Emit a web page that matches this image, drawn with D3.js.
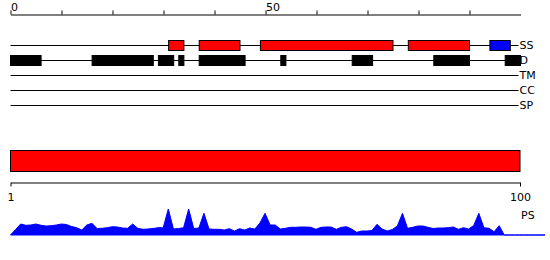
<!DOCTYPE html>
<html><head><meta charset="utf-8">
<script src="https://cdn.jsdelivr.net/npm/d3@7"></script>
<style>body{margin:0;background:#fff}svg{display:block}text{font-family:"DejaVu Sans",sans-serif;font-size:11px}</style>
</head><body>
<svg id="c" width="550" height="260"></svg>
<script>
// ---- data ----
const trackNames = ["SS", "D", "TM", "CC", "SP"];
const topTickValues = [0, 10, 20, 30, 40, 50, 60, 70, 80, 90];
const topTickLabels = ["0", "50"];
const ssStart = [31, 37, 49, 78, 94];
const ssEnd   = [34, 45, 75, 90, 98];
const ssType  = ["helix", "helix", "helix", "helix", "strand"];
const dStart = [0, 16, 29, 33, 37, 53, 67, 83, 97];
const dEnd   = [6, 28, 32, 34, 46, 54, 71, 90, 100];
const domainStart = [1];
const domainEnd = [100];
const bottomTickValues = [1, 100];
const psValues = [0, 5.5, 11, 9.7, 10, 11, 9.7, 9, 9.3, 10, 11, 10.5, 8.5, 7.3, 5, 10, 11.7, 6.5, 6.7, 7.3,
  8.3, 8, 7, 6.7, 11, 6.7, 5.7, 6, 6.5, 7.3, 7.3, 26, 6, 6.5, 7.3, 26, 6.5, 7, 21.7, 6,
  5.7, 5.7, 5, 6.3, 4, 6.3, 5, 7, 6, 12, 21.7, 10, 10, 6, 6.7, 7.7, 7.7, 8, 8, 7.7,
  5.7, 7.7, 8, 8, 5.7, 7.7, 8.3, 6, 2.7, 4, 4, 4.5, 10.7, 6, 4, 5.5, 9, 21.7, 6.7, 7.7,
  9, 9, 7.7, 6.5, 7, 7, 7.3, 8, 5.7, 7.3, 6, 9.5, 21.7, 7.3, 6.7, 3.3, 9.3, 0, 0, 0,
  0, 0, 0, 0, 0, 0];

// ---- drawing ----
const svg = d3.select("#c");
const color = {helix: "#ff0000", strand: "#0000ff"};
const x = d3.scaleLinear().domain([0, 100]).range([10.5, 520.5]);
const trackY = d3.scalePoint().domain(trackNames).range([45, 105]);

// top axis
const topAxis = d3.axisTop(x).tickValues(topTickValues).tickSize(4).tickSizeOuter(0).tickPadding(0)
  .tickFormat(d => topTickLabels.includes(String(d)) ? String(d) : "");
const gTop = svg.append("g").attr("transform", "translate(0,14.5)").call(topAxis);
gTop.selectAll("text").attr("text-anchor", "start").attr("fill", "#000").attr("font-size", 11).attr("font-family", "DejaVu Sans");
gTop.select(".domain").attr("stroke", "#000");
gTop.selectAll(".tick line").attr("stroke", "#000");

// track lines + labels
const tracks = svg.append("g");
trackNames.forEach(t => {
  const y = Math.round(trackY(t)) + 0.5;
  tracks.append("line").attr("x1", x(0)).attr("x2", x(100) - 2).attr("y1", y).attr("y2", y).attr("stroke", "#000");
  tracks.append("text").attr("x", x(100) - 1).attr("y", y).attr("dy", "0.36em").text(t);
});

// SS boxes
const ss = ssStart.map((s, i) => ({s, e: ssEnd[i], t: ssType[i]}));
svg.append("g").selectAll("rect").data(ss).join("rect")
  .attr("x", d => x(d.s)).attr("width", d => x(d.e) - x(d.s))
  .attr("y", trackY("SS") - 4.5).attr("height", 10)
  .attr("fill", d => color[d.t]).attr("stroke", "#000");

// D boxes
const dd = dStart.map((s, i) => ({s, e: dEnd[i]}));
svg.append("g").selectAll("rect").data(dd).join("rect")
  .attr("x", d => x(d.s)).attr("width", d => x(d.e) - x(d.s))
  .attr("y", trackY("D") - 4.5).attr("height", 10)
  .attr("fill", "#000").attr("stroke", "#000");

// bottom domain bar + axis
const xb = d3.scaleLinear().domain([1, 100]).range([10.5, 520]);
const dom = domainStart.map((s, i) => ({s, e: domainEnd[i]}));
svg.append("g").selectAll("rect").data(dom).join("rect")
  .attr("x", d => xb(d.s)).attr("width", d => xb(d.e) - xb(d.s))
  .attr("y", 150.5).attr("height", 21)
  .attr("fill", "#ff0000").attr("stroke", "#000");

const botAxis = d3.axisBottom(xb).tickValues(bottomTickValues).tickSize(4).tickSizeOuter(0).tickPadding(7).tickFormat(d3.format("d"));
const gBot = svg.append("g").attr("transform", "translate(0,182.5)").call(botAxis);
gBot.selectAll("text").attr("fill", "#000").attr("font-size", 11).attr("font-family", "DejaVu Sans");
gBot.select(".domain").attr("stroke", "#000");
gBot.selectAll(".tick line").attr("stroke", "#000");

// PS area
const xp = d3.scaleLinear().domain([0, psValues.length - 1]).range([10.5, 545]);
const yp = d3.scaleLinear().domain([0, 30]).range([235, 205]);
const area = d3.area().x((d, i) => xp(i)).y0(yp(0)).y1(d => yp(d));
svg.append("path").datum(psValues).attr("d", area)
  .attr("fill", "#0000ff").attr("stroke", "#0000ff").attr("stroke-width", 1);
svg.append("text").attr("x", xb(100) + 1).attr("y", 219).text("PS");
</script>
</body></html>
